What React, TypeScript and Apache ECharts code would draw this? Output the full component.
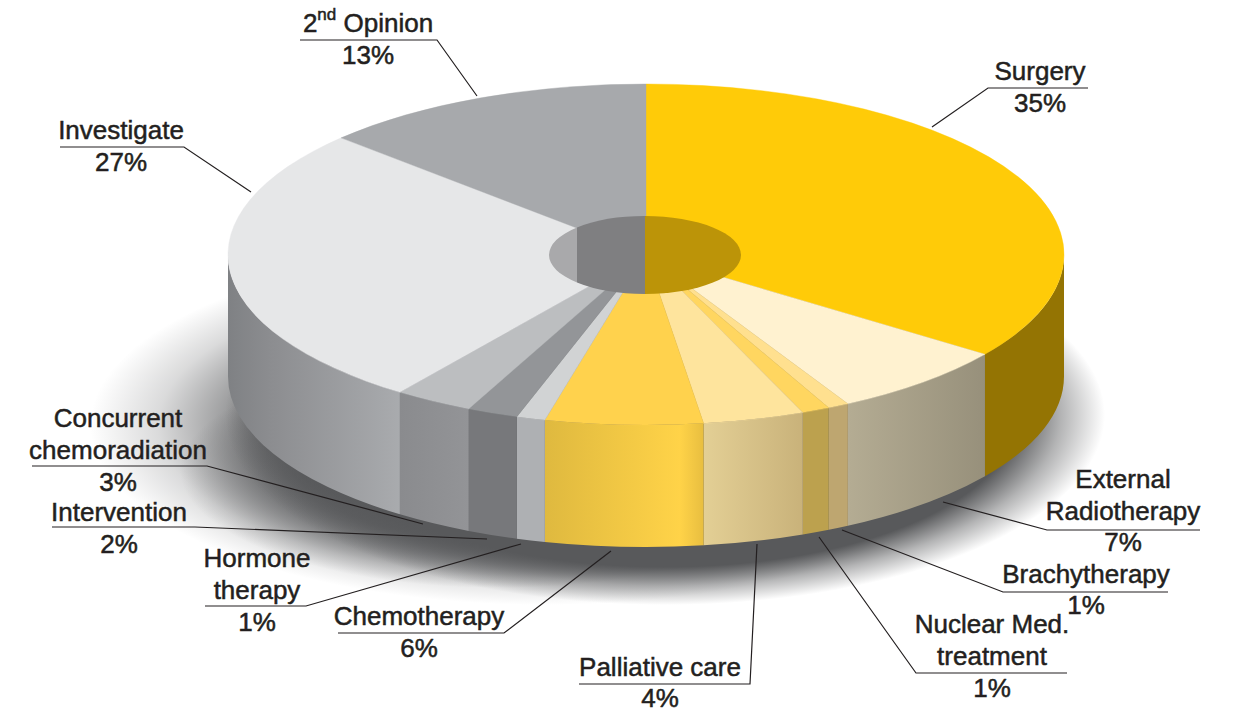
import React, { useEffect, useRef } from "react";
import * as echarts from "echarts";

const categories = ["Surgery", "External Radiotherapy", "Brachytherapy", "Nuclear Med. treatment", "Palliative care", "Chemotherapy", "Hormone therapy", "Intervention", "Concurrent chemoradiation", "Investigate", "2nd Opinion"];
// Percentages printed on the chart.
const printedPercents = [35, 7, 1, 1, 4, 6, 1, 2, 3, 27, 13];
const values = [34.95, 7.03, 0.82, 1.08, 3.92, 6.09, 1.11, 1.97, 3.05, 26.97, 13.01];

const topColors = ["#ffcb08", "#fff2d0", "#ffe08f", "#ffd660", "#fee49d", "#ffd24d", "#d1d3d4", "#939598", "#bcbec0", "#e6e7e8", "#a7a9ac"];
const sideStops: [number, string][][] = [
  [[0, "#947403"], [1, "#947403"]],
  [[0, "#b4ac93"], [1, "#97907b"]],
  [[0, "#bea670"], [1, "#bea670"]],
  [[0, "#bca14e"], [1, "#bca14e"]],
  [[0, "#e3cf95"], [1, "#c9b27a"]],
  [[0, "#dfb93f"], [0.85, "#ffd348"], [1, "#e8be40"]],
  [[0, "#aeb0b3"], [1, "#aeb0b3"]],
  [[0, "#77787b"], [1, "#77787b"]],
  [[0, "#8a8b8e"], [1, "#939497"]],
  [[0, "#7f8184"], [0.25, "#8c8d90"], [1, "#a9abae"]],
  [[0, "#a7a9ac"], [1, "#a7a9ac"]],
];

const CX = 646, CY = 254.5, RX = 418, RY = 170.5, DEPTH = 122;
const HOLE = { cx: 645, cy: 255, rx: 96, ry: 39, split: 577 };
const TEXT = "#231f20";
const FONT = "26px 'Liberation Sans', Arial, sans-serif";
const LINE_H = 32;

type Lbl = { idx: number; lines: string[]; cx: number; y: number; pctY: number; path: number[][] };
const labels: Lbl[] = [
  { idx: 0, lines: ["Surgery"], cx: 1040, y: 71, pctY: 103, path: [[1088, 88], [988, 88], [932, 127]] },
  { idx: 1, lines: ["External", "Radiotherapy"], cx: 1123, y: 479, pctY: 542, path: [[1200, 530], [1047, 530], [943, 502]] },
  { idx: 2, lines: ["Brachytherapy"], cx: 1086, y: 574, pctY: 605, path: [[1168, 592], [1003, 592], [842, 530]] },
  { idx: 3, lines: ["Nuclear Med.", "treatment"], cx: 992, y: 624, pctY: 688, path: [[1067, 673], [916, 673], [819, 537]] },
  { idx: 4, lines: ["Palliative care"], cx: 660, y: 667, pctY: 697.5, path: [[579, 684], [750, 684], [757, 544]] },
  { idx: 5, lines: ["Chemotherapy"], cx: 419, y: 616, pctY: 648, path: [[338, 633], [504, 633], [611, 551]] },
  { idx: 6, lines: ["Hormone", "therapy"], cx: 257, y: 558, pctY: 622, path: [[205, 606], [306, 606], [521, 544]] },
  { idx: 7, lines: ["Intervention"], cx: 119, y: 512, pctY: 544, path: [[52, 527], [195, 527], [487, 539]] },
  { idx: 8, lines: ["Concurrent", "chemoradiation"], cx: 118, y: 418, pctY: 482, path: [[32, 466], [207, 466], [423, 524]] },
  { idx: 9, lines: ["Investigate"], cx: 121, y: 130, pctY: 162, path: [[60, 147], [184, 147], [251, 192]] },
  { idx: 10, lines: ["2{sup|nd} Opinion"], cx: 368, y: 23, pctY: 55, path: [[300, 40], [437, 40], [477, 96]] },
];

const total = values.reduce((a, b) => a + b, 0);
const starts: number[] = [];
values.reduce((acc, v, i) => { starts[i] = acc; return acc + v; }, 0);

const angleOf = (share: number) => (share / total) * Math.PI * 2;
const px = (a: number) => CX + RX * Math.sin(a);
const py = (a: number) => CY - RY * Math.cos(a);

function renderTop(params: any, api: any) {
  const i = params.dataIndex;
  const a0 = angleOf(starts[i]);
  const a1 = angleOf(starts[i] + api.value(0));
  const large = a1 - a0 > Math.PI ? 1 : 0;
  const d = `M${CX} ${CY}L${px(a0)} ${py(a0)}A${RX} ${RY} 0 ${large} 1 ${px(a1)} ${py(a1)}Z`;
  return {
    type: "path",
    shape: { pathData: d },
    style: { fill: topColors[i], stroke: topColors[i], lineWidth: 0.4 },
  };
}

function renderSide(params: any, api: any) {
  const i = params.dataIndex;
  const a0 = Math.max(angleOf(starts[i]), Math.PI / 2);
  const a1 = Math.min(angleOf(starts[i] + api.value(0)), (Math.PI * 3) / 2);
  if (a1 <= a0) return null;
  const x0 = px(a0), y0 = py(a0), x1 = px(a1), y1 = py(a1);
  const d = `M${x0} ${y0}A${RX} ${RY} 0 0 1 ${x1} ${y1}L${x1} ${y1 + DEPTH}A${RX} ${RY} 0 0 0 ${x0} ${y0 + DEPTH}Z`;
  const stops = sideStops[i];
  const fill = new echarts.graphic.LinearGradient(0, 0, 1, 0, stops.map(([offset, color]) => ({ offset, color })));
  return {
    type: "path",
    shape: { pathData: d },
    style: { fill, stroke: null },
  };
}

function renderHole() {
  const { cx, cy, rx, ry, split } = HOLE;
  const dy = ry * Math.sqrt(1 - ((split - cx) / rx) ** 2);
  const parts = [
    { d: `M${cx} ${cy - ry}A${rx} ${ry} 0 0 1 ${cx} ${cy + ry}Z`, fill: "#bc9408" },
    { d: `M${cx} ${cy - ry}L${cx} ${cy + ry}A${rx} ${ry} 0 0 1 ${split} ${cy + dy}L${split} ${cy - dy}A${rx} ${ry} 0 0 1 ${cx} ${cy - ry}Z`, fill: "#7f7f81" },
    { d: `M${split} ${cy - dy}L${split} ${cy + dy}A${rx} ${ry} 0 0 1 ${split} ${cy - dy}Z`, fill: "#a9a9ab" },
  ];
  return {
    type: "group",
    children: parts.map((p) => ({ type: "path", shape: { pathData: p.d }, style: { fill: p.fill } })),
  };
}

function renderShadow() {
  const wide = new echarts.graphic.RadialGradient(0.5, 0.5, 0.5, [
    { offset: 0, color: "rgba(88,89,91,0.9)" },
    { offset: 0.6, color: "rgba(88,89,91,0.9)" },
    { offset: 0.7, color: "rgba(88,89,91,0.6)" },
    { offset: 0.85, color: "rgba(88,89,91,0.22)" },
    { offset: 1, color: "rgba(88,89,91,0)" },
  ]);
  const lowerLeft = new echarts.graphic.RadialGradient(0.5, 0.5, 0.5, [
    { offset: 0, color: "rgba(88,89,91,0.85)" },
    { offset: 0.6, color: "rgba(88,89,91,0.85)" },
    { offset: 1, color: "rgba(88,89,91,0)" },
  ]);
  const core = new echarts.graphic.RadialGradient(0.5, 0.5, 0.5, [
    { offset: 0, color: "rgba(88,89,91,1)" },
    { offset: 0.8, color: "rgba(88,89,91,1)" },
    { offset: 0.9, color: "rgba(88,89,91,0.45)" },
    { offset: 1, color: "rgba(88,89,91,0)" },
  ]);
  return {
    type: "group",
    children: [
      { type: "ellipse", shape: { cx: 545, cy: 425, rx: 455, ry: 180 }, style: { fill: wide } },
      { type: "ellipse", shape: { cx: 500, cy: 470, rx: 320, ry: 118 }, style: { fill: lowerLeft } },
      { type: "ellipse", shape: { cx: 665, cy: 415, rx: 440, ry: 190 }, style: { fill: core } },
    ],
  };
}

function buildGraphic() {
  const out: any[] = [];
  const textBase = {
    font: FONT,
    fill: TEXT,
    stroke: TEXT,
    lineWidth: 0.5,
    align: "center",
    verticalAlign: "middle",
    textAlign: "center",
    textVerticalAlign: "middle",
  };
  labels.forEach((l) => {
    out.push({
      type: "polyline",
      z: 20,
      silent: true,
      shape: { points: l.path },
      style: { stroke: TEXT, lineWidth: 1.2, fill: null },
    });
    l.lines.forEach((t, k) => {
      out.push({
        type: "text",
        z: 21,
        silent: true,
        style: {
          ...textBase,
          text: t,
          x: l.cx,
          y: l.y + k * LINE_H,
          rich: {
            sup: { font: "17px 'Liberation Sans', Arial, sans-serif", fill: TEXT, verticalAlign: "top", lineHeight: 34 },
          },
        },
      });
    });
    out.push({
      type: "text",
      z: 21,
      silent: true,
      style: { ...textBase, text: `${printedPercents[l.idx]}%`, x: l.cx, y: l.pctY },
    });
  });
  return out;
}

export default function App() {
  const ref = useRef<HTMLDivElement>(null);
  useEffect(() => {
    document.body.style.margin = "0";
    const chart = echarts.init(ref.current!, undefined, { renderer: "svg" });
    const data = values.map((v, i) => ({ name: categories[i], value: [v] }));
    chart.setOption({
      animation: false,
      backgroundColor: "#ffffff",
      graphic: { elements: buildGraphic() },
      series: [
        { type: "custom", name: "shadow", coordinateSystem: "none", silent: true, z: 1, data: [[1]], renderItem: renderShadow },
        { type: "custom", name: "sides", coordinateSystem: "none", silent: true, z: 2, data, renderItem: renderSide },
        { type: "custom", name: "tops", coordinateSystem: "none", silent: true, z: 3, data, renderItem: renderTop },
        { type: "custom", name: "hub", coordinateSystem: "none", silent: true, z: 4, data: [[1]], renderItem: renderHole },
      ],
    });
    return () => chart.dispose();
  }, []);
  return <div ref={ref} style={{ width: 1237, height: 711 }} />;
}
